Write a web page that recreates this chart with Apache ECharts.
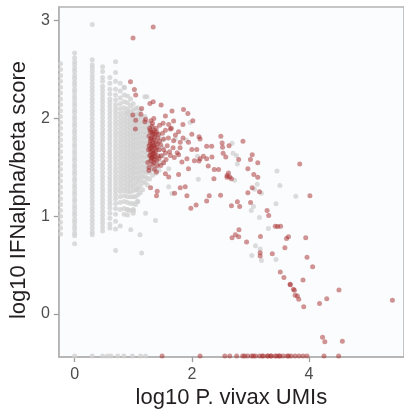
<!DOCTYPE html>
<html>
<head>
<meta charset="utf-8">
<script src="https://cdn.jsdelivr.net/npm/echarts@6/dist/echarts.min.js"></script>
<style>
html, body { margin: 0; padding: 0; background: #fff; }
#main { width: 404px; height: 414px; }
</style>
</head>
<body>
<div id="main"></div>
<script>
var xTicks = [0, 2, 4];
var yTicks = [0, 1, 2, 3];

// grey cells with few UMIs: one vertical stripe per count (x) and its scores (y)
var greyStripes = [
  [-0.24, [2.56,2.5,2.44,2.38,2.32,2.26,2.2,2.14,2.08,2.02,1.96,1.9,1.84,1.78,1.72,1.66,1.6,1.54,1.48,1.42,1.36,1.3,1.24,1.18,1.12,1.06,1.0,0.94,0.88,0.82]],
  [0, [2.67,2.62,2.58,2.55,2.51,2.48,2.44,2.41,2.37,2.34,2.3,2.27,2.23,2.2,2.16,2.13,2.09,2.06,2.02,1.99,1.95,1.92,1.88,1.85,1.81,1.78,1.74,1.71,1.67,1.64,1.6,1.57,1.53,1.5,1.46,1.43,1.39,1.36,1.32,1.29,1.25,1.22,1.18,1.15,1.11,1.08,1.04,1.01,0.97,0.94,0.9,0.87,0.83,0.8,0.72]],
  [0.301, [2.96,2.6,2.55,2.52,2.48,2.44,2.4,2.36,2.32,2.28,2.24,2.2,2.16,2.12,2.08,2.04,2.0,1.96,1.92,1.88,1.84,1.8,1.76,1.72,1.68,1.64,1.6,1.56,1.52,1.48,1.44,1.4,1.36,1.32,1.28,1.24,1.2,1.16,1.12,1.08,1.04,1.0,0.96,0.92,0.88,0.84,0.81]],
  [0.477, [2.53,2.48,2.42,2.38,2.33,2.29,2.25,2.21,2.17,2.13,2.09,2.05,2.01,1.97,1.93,1.89,1.85,1.81,1.77,1.73,1.69,1.65,1.61,1.57,1.53,1.49,1.45,1.41,1.37,1.33,1.29,1.25,1.21,1.17,1.13,1.09,1.05,1.01,0.97,0.93,0.89,0.85]],
  [0.602, [2.42,2.36,2.3,2.25,2.2,2.16,2.12,2.08,2.04,2.0,1.96,1.92,1.88,1.84,1.8,1.76,1.72,1.68,1.64,1.6,1.56,1.52,1.48,1.44,1.4,1.36,1.32,1.28,1.24,1.2,1.16,1.12,1.08,1.03,0.98,0.92,0.88]],
  [0.699, [2.58,2.47,2.38,2.3,2.24,2.19,2.14,2.1,2.06,2.02,1.98,1.94,1.9,1.86,1.82,1.78,1.74,1.7,1.66,1.62,1.58,1.54,1.5,1.46,1.42,1.38,1.34,1.3,1.26,1.22,1.18,1.13,1.08,1.02,0.95,0.87,0.65]],
  [0.778, [2.36,2.28,2.21,2.15,2.1,2.05,2.01,1.97,1.93,1.89,1.85,1.81,1.77,1.73,1.69,1.65,1.61,1.57,1.53,1.49,1.45,1.41,1.37,1.33,1.29,1.25,1.2,1.14,1.07,0.9]],
  [0.845, [2.32,2.24,2.17,2.11,2.06,2.02,1.98,1.94,1.9,1.86,1.82,1.78,1.74,1.7,1.66,1.62,1.58,1.54,1.5,1.46,1.42,1.38,1.34,1.3,1.26,1.21,1.15,1.08,1.02]],
  [0.903, [2.23,2.16,2.1,2.05,2.01,1.97,1.93,1.89,1.85,1.81,1.77,1.73,1.69,1.65,1.61,1.57,1.53,1.49,1.45,1.41,1.37,1.33,1.29,1.25,1.2,1.14,1.07]],
  [0.954, [2.2,2.13,2.07,2.02,1.98,1.94,1.9,1.86,1.82,1.78,1.74,1.7,1.66,1.62,1.58,1.54,1.5,1.46,1.42,1.38,1.34,1.3,1.25,1.2,1.13,1.06]],
  [1.0, [2.15,2.09,2.04,2.0,1.96,1.92,1.88,1.84,1.8,1.76,1.72,1.68,1.64,1.6,1.56,1.52,1.48,1.44,1.4,1.36,1.31,1.26,1.2,1.13,1.07,1.03]],
  [1.04, [2.1,2.04,1.99,1.94,1.89,1.84,1.79,1.74,1.69,1.64,1.59,1.54,1.49,1.44,1.39,1.33,1.27,1.2,1.12]],
  [1.08, [2.05,2.0,1.95,1.9,1.85,1.8,1.75,1.7,1.65,1.6,1.55,1.5,1.45,1.4,1.35,1.29,1.22,1.15]],
  [1.12, [2.08,2.02,1.97,1.92,1.87,1.82,1.77,1.72,1.67,1.62,1.57,1.52,1.47,1.42,1.37,1.31,1.24]],
  [1.16, [2.0,1.95,1.9,1.85,1.8,1.75,1.7,1.65,1.6,1.55,1.5,1.45,1.4,1.34,1.27]],
  [1.2, [2.02,1.96,1.91,1.86,1.81,1.76,1.71,1.66,1.61,1.56,1.51,1.46,1.41,1.35]],
  [1.24, [1.95,1.9,1.85,1.8,1.75,1.7,1.65,1.6,1.55,1.5,1.45,1.39,1.32]],
  [1.28, [1.93,1.87,1.81,1.75,1.69,1.63,1.57,1.51,1.45,1.38]],
  [1.33, [1.9,1.84,1.78,1.72,1.66,1.6,1.54,1.48,1.42]],
  [1.38, [1.86,1.8,1.74,1.68,1.62,1.56,1.5,1.44]],
  [1.44, [1.82,1.75,1.68,1.61,1.54,1.47]],
  [1.5, [1.78,1.7,1.62,1.55]]
];

// scattered grey cells
var greyScatter = [
  [1.233,2.223],[0.907,2.061],[1.076,2.111],[1.199,2.223],[0.851,2.314],[1.605,1.486],[1.718,1.79],
  [1.904,1.78],[2.095,1.615],[1.971,1.959],[2.111,1.378],[1.605,1.301],[1.662,1.233],[1.211,1.03],
  [1.38,0.956],[1.071,1.149],[1.003,1.058],[1.115,0.811],[0.958,0.861],[0.907,1.064],[1.144,0.625],
  [2.731,1.368],[3.115,1.327],[3.503,1.314],[3.188,1.236],[3.069,1.277],[3.774,1.206],[3.436,1.129],
  [3.052,1.101],[3.014,1.058],[3.154,0.987],[3.306,0.875],[3.086,0.699],[3.166,0.666],[3.024,0.598],
  [3.188,0.547],[3.436,0.557],[3.453,1.463],[2.686,1.747],[2.703,1.645],[2.76,1.621],[2.777,1.534],
  [0.902,1.013],[1.071,1.274]
];

// grey cells with a zero score, drawn on the lower edge
var greyBottomX = [0, 0.301, 0.477, 0.562, 0.62, 0.735, 0.84, 0.985, 1.125, 1.21];
var bottomY = -0.43;

// infected (red) cells
var redPoints = [
  [1.341,2.935],[0.997,2.824],[0.953,2.375],[1.02,2.297],[1.042,2.239],
  [1.284,2.152],[1.341,2.172],[1.476,2.138],[1.144,2.101],[1.662,2.077],[1.858,2.091],[1.932,2.051],
  [1.042,1.983],[1.211,1.993],[1.351,2.0],[1.549,2.026],[1.689,1.973],[2.017,1.976],
  [1.51,1.952],[1.605,1.939],[1.848,1.939],[1.633,1.892],[1.774,1.864],[2.0,1.838],[2.123,1.814],[2.14,1.79],
  [2.495,1.818],[2.872,1.767],[1.52,1.79],[1.689,1.773],[1.802,1.757],[1.943,1.757],[2.253,1.716],[2.338,1.716],
  [2.517,1.75],[2.635,1.722],[2.524,1.706],[2.0,1.682],[2.084,1.682],[2.196,1.615],[2.14,1.588],[2.534,1.645],
  [2.579,1.605],[2.799,1.581],[3.03,1.628],[3.125,1.547],[1.549,1.648],[1.633,1.621],[1.774,1.628],[1.916,1.588],
  [1.831,1.554],[2.044,1.567],[2.123,1.564],[2.253,1.588],[1.52,1.547],[1.409,1.52],[1.267,1.469],[1.397,1.453],
  [1.549,1.436],[1.605,1.402],[1.774,1.426],[1.943,1.486],[2.28,1.514],[2.382,1.479],[2.377,1.385],[2.625,1.443],
  [2.601,1.418],[2.647,1.402],[2.956,1.486],[3.057,1.426],[3.125,1.398],[1.296,1.291],[1.802,1.291],[1.887,1.301],
  [1.409,1.256],[1.397,1.21],[1.706,1.236],[1.916,1.21],[2.297,1.21],[2.49,1.216],[2.956,1.24],[3.03,1.291],
  [3.154,1.25],[2.253,1.155],[2.073,1.115],[1.983,1.081],[2.676,1.108],[2.777,1.149],[2.816,1.101],[3.002,1.142],
  [3.284,1.058],[3.311,1.007],[2.676,1.385],[4.015,1.21],[3.424,0.899],[3.463,0.896],[3.514,0.899],[2.804,0.861],
  [2.743,0.811],[2.686,0.78],[2.799,0.79],[2.934,0.737],[3.171,0.794],[3.649,0.79],[3.615,0.774],[3.943,0.78],
  [3.588,0.679],[3.166,0.628],[3.166,0.595],[3.373,0.618],[3.965,0.582],[4.061,0.483],[3.509,0.43],[3.571,0.375],
  [3.677,0.304],[3.68,0.3],[3.733,0.253],[3.75,0.243],[3.762,0.193],[3.801,0.186],[3.824,0.152],[3.897,0.349],
  [3.909,0.075],[4.51,0.247],[4.302,0.156],[4.179,0.108],[5.422,0.142],[4.23,-0.236],[4.269,-0.284],[4.568,-0.277],
  [1.199,1.966],[0.992,2.036],[1.132,2.044],[1.037,1.892],[1.301,1.976],
  [3.841,1.534],[3.0,1.58],[2.343,1.605],[2.456,1.479],[2.6,1.4],
  // dense core around 20-30 UMIs
  [1.28,1.9],[1.32,1.92],[1.36,1.88],[1.3,1.86],[1.34,1.84],[1.4,1.86],[1.27,1.82],[1.31,1.8],[1.36,1.81],
  [1.42,1.8],[1.29,1.77],[1.33,1.75],[1.38,1.76],[1.45,1.77],[1.27,1.72],[1.31,1.7],[1.35,1.72],[1.4,1.7],
  [1.3,1.66],[1.34,1.64],[1.38,1.66],[1.44,1.68],[1.28,1.62],[1.32,1.6],[1.37,1.61],[1.42,1.62],[1.3,1.57],
  [1.35,1.55],[1.4,1.57],[1.47,1.73],[1.5,1.85],[1.48,1.62],[1.33,1.95],[1.26,1.68],[1.45,1.93],[1.55,1.88],
  [1.58,1.72],[1.52,1.68],[1.6,1.8],[1.62,1.66],[1.56,1.58],[1.47,1.52],[1.25,1.55],[1.27,1.5],[1.36,1.48],
  [1.68,1.7],[1.72,1.83],[1.65,1.9],[1.75,1.65],[1.8,1.7],[1.85,1.8],[1.7,1.6],
  [1.29,1.88],[1.33,1.86],[1.37,1.84],[1.3,1.79],[1.35,1.78],[1.29,1.74],[1.33,1.72],[1.37,1.7],
  [1.29,1.69],[1.33,1.67],[1.36,1.65],[1.3,1.63],[1.34,1.61],[1.31,1.59],[1.36,1.58],[1.41,1.74],
  [1.43,1.84],[1.39,1.9],[1.44,1.59],[1.33,1.53]
];

// red cells with a zero score, on the lower edge
var redBottomX = [1.493,2.14,2.563,2.647,2.765,2.867,2.951,3.019,3.086,3.154,3.221,3.289,3.356,3.424,3.492,
  3.559,3.627,3.694,3.762,3.829,3.897,3.965,4.255,4.505,2.9,3.05,3.2,3.35,3.5,3.65,3.3,3.45];

var greyData = [];
greyStripes.forEach(function (s) {
  s[1].forEach(function (y) { greyData.push([s[0], y]); });
});
greyData = greyData.concat(greyScatter);
greyBottomX.forEach(function (x) { greyData.push([x, bottomY]); });

var redData = redPoints.slice();
redBottomX.forEach(function (x) { redData.push([x, bottomY]); });

var myChart = echarts.init(document.getElementById('main'));
var font = 'Liberation Sans';
var lineGrey = '#b3b3b3';
var option = {
  backgroundColor: '#ffffff',
  animation: false,
  grid: {
    left: 57.5,
    top: 7,
    right: -2,
    bottom: 54,
    show: true,
    backgroundColor: '#fbfcfe',
    borderColor: lineGrey,
    borderWidth: 1.5
  },
  xAxis: {
    type: 'value',
    min: -0.27,
    max: 5.62,
    name: 'log10 P. vivax UMIs',
    nameLocation: 'middle',
    nameGap: 27,
    nameTextStyle: { color: '#231f20', fontSize: 22, fontFamily: font },
    splitLine: { show: false },
    axisLine: { show: true, onZero: false, lineStyle: { color: lineGrey, width: 1.5 } },
    axisTick: { show: true, length: 5, customValues: xTicks, lineStyle: { color: '#9e9e9e', width: 1.3 } },
    axisLabel: { customValues: xTicks, margin: 9, color: '#4d4d4d', fontSize: 16, fontFamily: font }
  },
  yAxis: {
    type: 'value',
    min: -0.44,
    max: 3.14,
    name: 'log10 IFNalpha/beta score',
    nameLocation: 'middle',
    nameGap: 24,
    nameTextStyle: { color: '#231f20', fontSize: 22, fontFamily: font, padding: [0, 16, 0, 0] },
    splitLine: { show: false },
    axisLine: { show: true, onZero: false, lineStyle: { color: lineGrey, width: 1.5 } },
    axisTick: { show: true, length: 5, customValues: yTicks, lineStyle: { color: '#9e9e9e', width: 1.3 } },
    axisLabel: { customValues: yTicks, margin: 9, color: '#4d4d4d', fontSize: 16, fontFamily: font }
  },
  series: [
    {
      name: 'uninfected',
      type: 'scatter',
      data: greyData,
      symbolSize: 5,
      itemStyle: { color: '#d0d0d0', opacity: 0.75 }
    },
    {
      name: 'infected',
      type: 'scatter',
      data: redData,
      symbolSize: 5,
      itemStyle: { color: '#a52a2a', opacity: 0.5 }
    }
  ]
};
myChart.setOption(option);
</script>
</body>
</html>
